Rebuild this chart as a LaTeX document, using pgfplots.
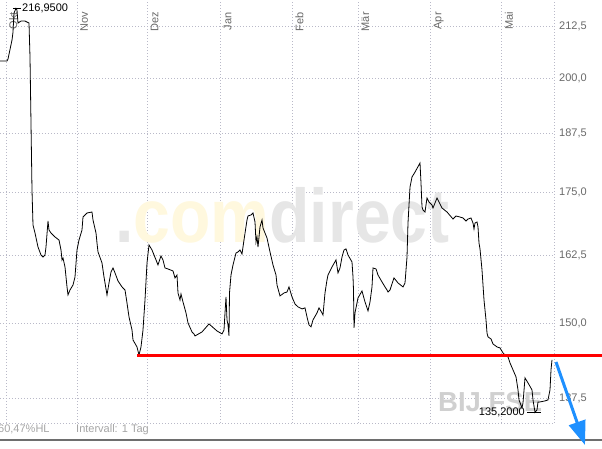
\documentclass[border=0pt]{standalone}
\usepackage{pgfplots}
\pgfplotsset{compat=1.18}
\usepackage{fontspec}
\setmainfont{Liberation Sans}
\usetikzlibrary{arrows.meta}
\definecolor{gridc}{RGB}{185,185,200}
\definecolor{lblc}{RGB}{105,105,105}
\definecolor{wmgray}{RGB}{230,230,230}
\definecolor{wmyel}{RGB}{255,248,222}
\definecolor{arrowblue}{RGB}{30,144,255}
\definecolor{botline}{RGB}{110,110,110}
\definecolor{lightlbl}{RGB}{165,165,165}
\definecolor{symc}{RGB}{208,208,208}
\tikzset{monthlbl/.style={rotate=90, anchor=north east, inner sep=0pt, font=\fontsize{11}{11}\selectfont, text=lblc}}
\begin{document}
\begin{tikzpicture}[x=1pt,y=1pt]
\useasboundingbox (0,0) rectangle (602,448);
\begin{axis}[
  at={(0pt,25pt)}, anchor=south west,
  scale only axis, width=554pt, height=423pt,
  ymode=log,
  xmin=0, xmax=554, ymin=133.53, ymax=219.1,
  clip=false,
  axis x line*=bottom, axis y line*=right,
  axis line style={draw=gridc, dash pattern=on 1pt off 2pt, line width=0.8pt},
  major tick length=0pt,
  xtick={6,77,147.5,220.7,292.3,358.3,430.7,501.7},
  xticklabels={,,,,,,,},
  ytick={137.5,150,162.5,175,187.5,200,212.5},
  yticklabels={{137,5},{150,0},{162,5},{175,0},{187,5},{200,0},{212,5}},
  yticklabel style={font=\fontsize{11}{11}\selectfont, text=lblc, anchor=west, inner sep=0pt, xshift=5pt},
  grid=major,
  major grid style={draw=gridc, dash pattern=on 1pt off 2pt, line width=0.8pt},
]
% watermark
\node[anchor=base west, inner sep=0pt, xscale=0.87, font=\fontsize{76}{76}\selectfont\bfseries] at (axis cs:115,164.85) {\textcolor{wmgray}{.}\textcolor{wmyel}{com}\textcolor{wmgray}{direct}};
\node[anchor=base west, inner sep=0pt, font=\fontsize{27.5}{27.5}\selectfont\bfseries, text=symc] at (axis cs:438,135.27) {BIJ.FSE};
% month labels
\node[monthlbl] at (axis cs:9,216.01) {Okt};
\node[monthlbl] at (axis cs:80,216.01) {Nov};
\node[monthlbl] at (axis cs:150.5,216.01) {Dez};
\node[monthlbl] at (axis cs:223.7,216.01) {Jan};
\node[monthlbl] at (axis cs:295.3,216.01) {Feb};
\node[monthlbl] at (axis cs:361.3,216.01) {Mär};
\node[monthlbl] at (axis cs:433.7,216.01) {Apr};
\node[monthlbl] at (axis cs:504.7,216.01) {Mai};
% price series
\addplot[black, line width=0.8pt, sharp plot, mark=none] coordinates {
(0,203.97) (7,203.97) (8,204.45) (12,209.05) (13,211.01) (14,215.76) (16,216.95) (17,216.52) (18,213.25)
(21,213.75) (25,213.75) (27,213.50) (29,213.25) (30,204.93) (31,189.70) (32,175.40) (33,168.36) (35,166.79)
(38,164.08) (41,162.55) (43,162.17) (45,162.55) (46,164.08) (48,169.15) (49,167.38) (51,166.79) (55,166.01)
(59,165.43) (61,163.51) (62,161.61) (63,161.98) (65,160.29) (66,158.42) (67,156.58) (68,155.12) (70,156.03)
(73,156.94) (75,158.42) (77,163.51) (79,165.43) (82,167.38) (83,169.94) (87,170.74) (92,170.94) (93,169.35)
(96,166.79) (97,164.85) (98,163.13) (102,161.04) (104,158.42) (107,155.12) (109,157.31) (111,159.35)
(113,160.10) (115,159.17) (118,157.68) (122,156.58) (125,156.03) (127,153.67) (129,151.18) (132,148.89)
(133,147.16) (137,145.96) (139,144.60) (141,145.96) (143,148.89) (145,154.21) (147,161.04) (149,164.47)
(152,163.51) (156,161.61) (158,160.66) (161,162.37) (163,161.61) (165,160.10) (168,159.91) (173,159.54)
(175,158.24) (177,158.79) (178,155.48) (180,154.21) (181,155.30) (183,153.85) (186,151.89) (188,150.12)
(192,148.54) (194,148.20) (195,147.85) (202,148.54) (209,149.94) (217,148.72) (222,148.20) (224,148.89)
(225,151.89) (226,154.76) (227,150.65) (228,149.77) (229,147.85) (229.5,155.48) (231,158.79) (233,160.66)
(236,162.93) (238,163.13) (240,163.51) (242,162.74) (244,165.43) (247,169.35) (248,170.14) (251,170.34)
(253,170.74) (255,168.95) (256,165.04) (257,166.01) (258,164.08) (260,167.97) (262,169.35) (263,167.77)
(267,165.82) (270,163.13) (273,160.66) (276,158.79) (277,156.94) (280,154.94) (284,155.48) (287,155.66)
(289,156.58) (292,154.76) (295,153.49) (298,152.96) (302,152.60) (305,152.78) (307,151.18) (309,149.77)
(311,149.42) (313,150.65) (317,151.89) (319,152.78) (322,151.89) (323,151.53) (325,155.48) (327,157.87)
(328,158.79) (332,160.29) (336,161.61) (338,159.17) (340,160.10) (342,162.17) (344,163.51) (346,163.70)
(348,162.55) (352,161.23) (353,158.42) (353.5,156.03) (354,149.24) (355,151.89) (357,153.67) (358,154.58)
(362,155.85) (365,153.85) (368,152.24) (370,153.85) (372,156.58) (373,160.10) (376,159.91) (378,158.79)
(382,157.50) (385,156.58) (387,156.03) (388,155.66) (390,156.03) (394,158.24) (398,157.31) (403,156.58)
(405,157.31) (407,162.17) (408,168.76) (410,176.01) (412,178.09) (415,179.13) (420,181.03) (421,176.84)
(422,171.94) (423,171.34) (425,170.94) (427,173.76) (429,172.95) (432,172.34) (433,171.74) (435,172.75)
(437,173.76) (439,172.95) (442,171.74) (447,170.94) (453,169.55) (456,170.14) (460,169.94) (463,169.75)
(466,169.15) (468,169.55) (471,169.75) (473,168.76) (474,167.58) (475,168.76) (477,168.95) (478,167.97)
(479,164.85) (480,163.70) (482,159.73) (484,154.21) (486,150.65) (487,148.37) (488,147.68) (491,147.33)
(493,146.47) (497,145.96) (500,145.79) (503,144.94) (506,144.43) (508,144.26) (510,143.25) (513,142.09)
(516,140.93) (518,138.80) (519,137.18) (522,135.90) (523,136.70) (525,140.76) (528,139.94) (532,138.80)
(533,137.18) (535,135.20) (537,135.59) (538,136.86) (540,136.86) (545,137.02) (548,137.18) (550,138.80)
(551,142.09) (552,143.76)
};
% support line
\addplot[red, line width=3pt, mark=none, forget plot] coordinates {(137,144.43) (602,144.43)};
% high / low annotations
\draw[black, line width=0.8pt] (axis cs:13,216.95) -- (axis cs:21,216.95);
\node[anchor=west, inner sep=1pt, font=\fontsize{11}{11}\selectfont] at (axis cs:21,216.95) {216,9500};
\draw[black, line width=0.8pt] (axis cs:527,135.2) -- (axis cs:541,135.2);
\node[anchor=east, inner sep=1pt, font=\fontsize{11}{11}\selectfont] at (axis cs:526,135.2) {135,2000};
\end{axis}
\node[anchor=base west, inner sep=0pt, font=\fontsize{11}{11}\selectfont, text=lightlbl] at (-2,16) {60,47\%HL};
\node[anchor=base west, inner sep=0pt, font=\fontsize{11}{11}\selectfont, text=lightlbl] at (76,16) {Intervall: 1 Tag};
\draw[botline, line width=1.5pt] (0,8) -- (602,8);
\draw[arrowblue, line width=3pt, -{Triangle[length=24pt,width=17pt]}] (556,86) -- (585,3);
\end{tikzpicture}
\end{document}
